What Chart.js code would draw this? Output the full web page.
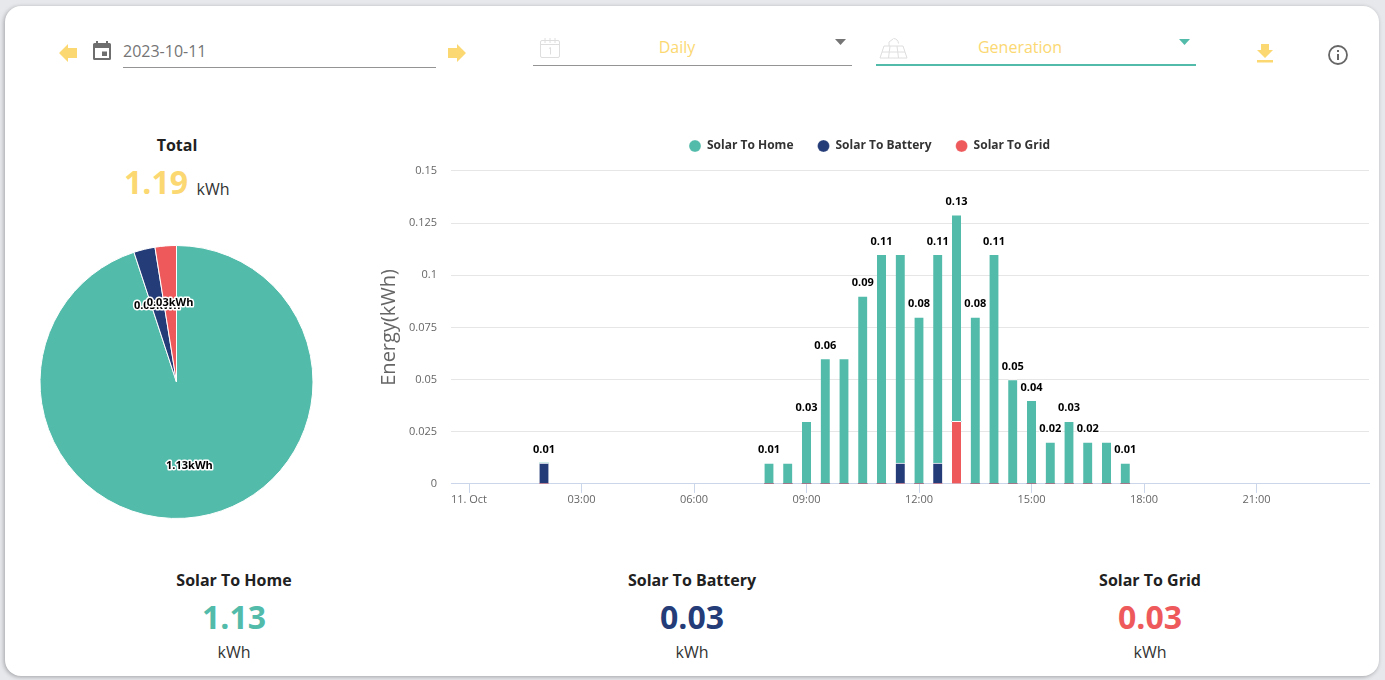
<!DOCTYPE html>
<html>
<head>
<meta charset="utf-8">
<script src="https://cdn.jsdelivr.net/npm/chart.js@4"></script>
<style>
  html, body { margin: 0; padding: 0; }
  body { width: 1385px; height: 680px; overflow: hidden; background: #e6e8ec; font-family: "Open Sans", sans-serif; color: #212121; }
  #card { position: absolute; left: 5px; top: 6px; width: 1374px; height: 670px; background: #fff; border-radius: 16px; box-shadow: -1px 1px 4px rgba(0,0,0,.3); }
  .abs { position: absolute; white-space: nowrap; }
  .mid { transform: translate(-50%, -50%); }
  .line { position: absolute; height: 1px; background: #949494; }
  .title { font-weight: 700; font-size: 16px; }
  .big { font-weight: 700; font-size: 32px; }
  .unit { font-size: 16px; color: #333; }
  .sel { font-size: 16px; color: #fbd872; }
  svg { position: absolute; }
  canvas { position: absolute; }
</style>
</head>
<body>
<div id="card"></div>

<svg style="left:58px;top:44px" width="20" height="18" viewBox="0 0 20 18"><path d="M1 9 10 0V4H19V14H10V18Z" fill="#fbd872"/></svg>
<svg style="left:91px;top:39px" width="22" height="22" viewBox="0 0 22 22"><path d="M5 2h2v2h8V2h2v2h1.500A1.500 1.500 0 0 1 20 5.500v14a1.500 1.500 0 0 1-1.500 1.500h-15A1.500 1.500 0 0 1 2 19.500v-14A1.500 1.500 0 0 1 3.500 4H5ZM4 9v10h14V9Zm7 3.500h5V17h-5Z" fill="#6e6e6e" fill-rule="evenodd"/></svg>
<div class="abs" style="left:123px;top:40px;font-size:16px;color:#757575">2023-10-11</div>
<div class="line" style="left:123px;top:67px;width:313px"></div>
<svg style="left:447px;top:44px" width="20" height="18" viewBox="0 0 20 18"><path d="M19 9 10 0V4H1V14H10V18Z" fill="#fbd872"/></svg>

<svg style="left:539px;top:37px" width="22" height="22" viewBox="0 0 22 22" fill="none" stroke="#dedede"><rect x="1.500" y="3.500" width="19" height="17" rx="1.500"/><path d="M1.500 7.500h19M6 1v5M11 1v5M16 1v5"/><path d="M10 11.500l1.500-1v7"/></svg>
<div class="abs mid sel" style="left:677px;top:47px">Daily</div>
<svg style="left:835px;top:39px" width="11" height="6" viewBox="0 0 11 6"><path d="M0 0H11L5.500 6Z" fill="#757575"/></svg>
<div class="line" style="left:533px;top:65px;width:319px"></div>

<svg style="left:879px;top:37px" width="29" height="22" viewBox="0 0 29 22" fill="none" stroke="#dedede"><path d="M5 9H24L28 21H1ZM3 15H26M11 9 9.500 21M18 9 19.500 21M10 9V5L14 2M14.500 1.500a5 5 0 0 1 5 5"/></svg>
<div class="abs mid sel" style="left:1020px;top:47px">Generation</div>
<svg style="left:1179px;top:39px" width="11" height="6" viewBox="0 0 11 6"><path d="M0 0H11L5.500 6Z" fill="#52bbaa"/></svg>
<div class="line" style="left:876px;top:64px;width:320px;height:2px;background:#52bbaa"></div>

<svg style="left:1256px;top:44px" width="18" height="19" viewBox="0 0 18 19"><path d="M5 0H13V6H17L9 14 1 6H5ZM1 16H17V18.500H1Z" fill="#fbd872"/></svg>
<svg style="left:1327px;top:44px" width="22" height="22" viewBox="0 0 22 22"><circle cx="11" cy="11" r="9" fill="none" stroke="#666" stroke-width="1.800"/><path d="M10 10h2v6h-2ZM10 6h2v2h-2Z" fill="#666"/></svg>

<div class="abs mid title" style="left:177px;top:145px">Total</div>
<div class="abs mid big" id="totalValue" style="left:156px;top:181px;color:#fbd872"></div>
<div class="abs mid unit" style="left:213px;top:189px">kWh</div>

<canvas id="pieChart" width="300" height="300" style="left:26px;top:232px"></canvas>
<canvas id="barChart" width="1000" height="400" style="left:370px;top:116px"></canvas>

<div id="kpis"></div>

<script>
const seriesNames = ['Solar To Home', 'Solar To Battery', 'Solar To Grid'];
const seriesColors = ['#52bbaa', '#243c78', '#ee5a5c'];
const totals = [1.13, 0.03, 0.03];
const grandTotal = 1.19;
const unit = 'kWh';

// half hour slots of the day, in hours
const hours = [2, 8, 8.5, 9, 9.5, 10, 10.5, 11, 11.5, 12, 12.5, 13, 13.5, 14, 14.5, 15, 15.5, 16, 16.5, 17, 17.5];
const solarToHome = [0, 0.01, 0.01, 0.03, 0.06, 0.06, 0.09, 0.11, 0.10, 0.08, 0.10, 0.099, 0.08, 0.11, 0.05, 0.04, 0.02, 0.03, 0.02, 0.02, 0.01];
const solarToBattery = [0.01, 0, 0, 0, 0, 0, 0, 0, 0.01, 0, 0.01, 0, 0, 0, 0, 0, 0, 0, 0, 0, 0];
const solarToGrid = [0, 0, 0, 0, 0, 0, 0, 0, 0, 0, 0, 0.03, 0, 0, 0, 0, 0, 0, 0, 0, 0];
// the overlapping labels the reference leaves out
const hiddenLabelHours = [8.5, 10, 11.5, 17];

const xTicks = [0, 3, 6, 9, 12, 15, 18, 21];
const xTickLabels = ['11. Oct', '03:00', '06:00', '09:00', '12:00', '15:00', '18:00', '21:00'];
const yTicks = [0, 0.025, 0.05, 0.075, 0.1, 0.125, 0.15];
const yTickLabels = ['0', '0.025', '0.05', '0.075', '0.1', '0.125', '0.15'];

const FONT = '"Open Sans", sans-serif';

document.getElementById('totalValue').textContent = grandTotal.toFixed(2);

// bottom summary blocks
const kpiX = [234, 692, 1150];
document.getElementById('kpis').innerHTML = seriesNames.map((name, i) =>
  `<div class="abs mid title" style="left:${kpiX[i]}px;top:580px">${name}</div>` +
  `<div class="abs mid big" style="left:${kpiX[i]}px;top:616px;color:${seriesColors[i]}">${totals[i].toFixed(2)}</div>` +
  `<div class="abs mid unit" style="left:${kpiX[i]}px;top:652px">${unit}</div>`
).join('');

function haloText(ctx, text, x, y) {
  ctx.lineJoin = 'round';
  ctx.lineWidth = 3;
  ctx.strokeStyle = '#fff';
  ctx.strokeText(text, x, y);
  ctx.fillStyle = '#000';
  ctx.fillText(text, x, y);
}

const pieLabels = {
  id: 'pieLabels',
  afterDatasetsDraw(chart) {
    const ctx = chart.ctx;
    ctx.save();
    ctx.font = '700 11px ' + FONT;
    ctx.textAlign = 'center';
    ctx.textBaseline = 'middle';
    chart.getDatasetMeta(0).data.forEach((arc, i) => {
      const p = arc.getProps(['x', 'y', 'startAngle', 'endAngle', 'outerRadius'], true);
      const a = (p.startAngle + p.endAngle) / 2;
      const r = p.outerRadius * 0.6;
      haloText(ctx, totals[i].toFixed(2) + unit, p.x + r * Math.cos(a), p.y + r * Math.sin(a) + 3);
    });
    ctx.restore();
  }
};

const stackLabels = {
  id: 'stackLabels',
  afterDatasetsDraw(chart) {
    const ctx = chart.ctx;
    const { x: xs, y: ys } = chart.scales;
    ctx.save();
    ctx.font = '700 11px ' + FONT;
    ctx.textAlign = 'center';
    ctx.textBaseline = 'middle';
    hours.forEach((h, i) => {
      if (hiddenLabelHours.includes(h)) return;
      const sum = solarToHome[i] + solarToBattery[i] + solarToGrid[i];
      haloText(ctx, sum.toFixed(2), xs.getPixelForValue(h), ys.getPixelForValue(sum) - 13);
    });
    ctx.restore();
  }
};

// more room between the legend and the plot
const legendGap = {
  id: 'legendGap',
  beforeInit(chart) {
    const fit = chart.legend.fit;
    chart.legend.fit = function () {
      fit.call(this);
      this.height += 8.9;
    };
  }
};

new Chart(document.getElementById('pieChart'), {
  type: 'pie',
  data: {
    labels: seriesNames,
    datasets: [{
      data: totals,
      backgroundColor: seriesColors,
      borderColor: '#fff',
      borderWidth: 1
    }]
  },
  options: {
    responsive: false,
    animation: false,
    layout: { padding: { left: 13.5, right: 12.5, top: 13, bottom: 13 } },
    plugins: { legend: { display: false }, tooltip: { enabled: false } }
  },
  plugins: [pieLabels]
});

function points(values) {
  return hours.map((h, i) => ({ x: h, y: values[i] }));
}

new Chart(document.getElementById('barChart'), {
  type: 'bar',
  data: {
    // grid goes first so it sits at the bottom of the stack
    datasets: [
      { label: seriesNames[2], data: points(solarToGrid), backgroundColor: seriesColors[2] },
      { label: seriesNames[1], data: points(solarToBattery), backgroundColor: seriesColors[1] },
      { label: seriesNames[0], data: points(solarToHome), backgroundColor: seriesColors[0] }
    ]
  },
  options: {
    responsive: false,
    animation: false,
    layout: { padding: { right: 1, bottom: 0 } },
    datasets: { bar: { barThickness: 9, borderWidth: { top: 1 }, borderColor: '#fff', borderSkipped: 'bottom' } },
    plugins: {
      tooltip: { enabled: false },
      legend: {
        reverse: true,
        labels: {
          usePointStyle: true,
          pointStyle: 'circle',
          pointStyleWidth: 12,
          boxHeight: 8.5,
          padding: 24,
          color: '#333',
          font: { family: FONT, size: 12, weight: '700' }
        }
      }
    },
    scales: {
      x: {
        type: 'linear',
        stacked: true,
        offset: false,
        min: -0.48,
        max: 24,
        afterBuildTicks: s => { s.ticks = xTicks.map(v => ({ value: v })); },
        afterFit: s => { s.height = 32.1; },
        border: { color: '#ccd6eb' },
        grid: { offset: false, drawOnChartArea: false, tickColor: '#ccd6eb', tickLength: 9 },
        ticks: {
          autoSkip: false,
          maxRotation: 0,
          padding: 0,
          color: '#666',
          font: { family: FONT, size: 11 },
          callback: v => xTickLabels[xTicks.indexOf(v)]
        }
      },
      y: {
        stacked: true,
        min: 0,
        max: 0.15,
        afterBuildTicks: s => { s.ticks = yTicks.map(v => ({ value: v })); },
        afterFit: s => { s.width = 81; },
        border: { display: false },
        grid: { color: '#e6e6e6', drawTicks: false },
        title: { display: true, text: 'Energy(kWh)', color: '#666', font: { family: FONT, size: 20 }, padding: { top: 7, bottom: 0 } },
        ticks: {
          padding: 14,
          color: '#666',
          font: { family: FONT, size: 11 },
          callback: v => yTickLabels[yTicks.indexOf(v)]
        }
      }
    }
  },
  plugins: [stackLabels, legendGap]
});
</script>
</body>
</html>
